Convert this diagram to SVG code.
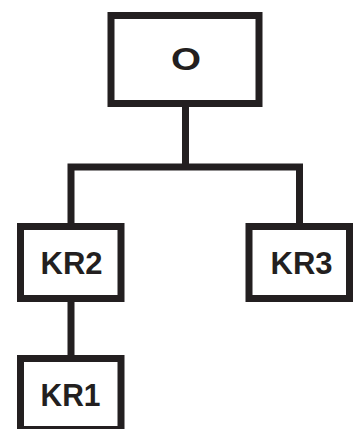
<svg xmlns="http://www.w3.org/2000/svg" width="361" height="429" viewBox="0 0 361 429">
<style>
.box{fill:#ffffff;stroke:#231f20;stroke-width:7}
.conn{fill:none;stroke:#231f20;stroke-width:7;stroke-linecap:butt;stroke-linejoin:miter}
.lbl{font-family:"Liberation Sans",Arial,sans-serif;font-weight:bold;font-size:31px;fill:#231f20;text-anchor:middle}
</style>
<rect width="361" height="429" fill="#ffffff"/>
<g id="connectors">
<path class="conn" d="M185.5 106 V167 M71 223 V167 H299.5 V223 M71 302 V355"/>
</g>
<g id="node-O">
<rect class="box" x="111" y="15.5" width="148" height="88"/>
<text class="lbl" x="186" y="70" style="font-size:32px" textLength="30" lengthAdjust="spacingAndGlyphs">O</text>
</g>
<g id="node-KR2">
<rect class="box" x="20.5" y="226.5" width="100.5" height="72"/>
<text class="lbl" x="71.5" y="274" textLength="62" lengthAdjust="spacingAndGlyphs">KR2</text>
</g>
<g id="node-KR3">
<rect class="box" x="249" y="226.5" width="100.5" height="72"/>
<text class="lbl" x="301.5" y="274" textLength="62" lengthAdjust="spacingAndGlyphs">KR3</text>
</g>
<g id="node-KR1">
<rect class="box" x="20.5" y="358.5" width="100.5" height="71"/>
<text class="lbl" x="70.5" y="406" textLength="60" lengthAdjust="spacingAndGlyphs">KR1</text>
</g>
</svg>
